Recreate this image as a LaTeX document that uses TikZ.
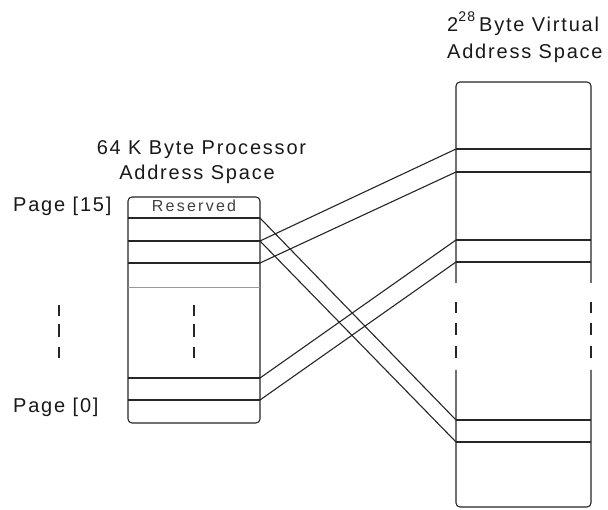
\documentclass[tikz,border=0pt]{standalone}
\usepackage{fontspec}
\setmainfont{Liberation Sans}
\newfontfamily\lblfont[LetterSpace=9]{Liberation Sans}
\newfontfamily\resfont[LetterSpace=14]{Liberation Sans}
\begin{document}
\begin{tikzpicture}[x=1pt,y=-1pt,
  edge/.style={line width=1.1pt,draw=black!85},
  light/.style={line width=0.8pt,draw=black!40},
  lbl/.style={inner sep=0pt,font=\lblfont\fontsize{20}{22}\selectfont,text=black!90},
  reslbl/.style={inner sep=0pt,font=\resfont\fontsize{16}{18}\selectfont,text=black!75}]
\useasboundingbox (0,0) rectangle (608,510);
\fill[white] (0,0) rectangle (608,510);

% labels
\node[lbl,anchor=base] (t1) at (201.5,155) {64 K Byte Processor};
\node[lbl,anchor=base] (t2) at (197,180) {Address Space};
\node[lbl,anchor=base west] (p15) at (13,212) {Page [15]};
\node[lbl,anchor=base west] (p0) at (13,413) {Page [0]};
\node[reslbl,anchor=base] (res) at (194,212) {Reserved};
\node[lbl,anchor=base west] (t3) at (447,32) {2\raisebox{10pt}{\fontsize{14}{14}\selectfont 28}\hspace{4pt}Byte Virtual};
\node[lbl,anchor=base west] (t4) at (447,59) {Address Space};

% left box
\draw[edge,rounded corners=4] (128,197) rectangle (260,423);
\foreach \y/\n in {218/1,241/2,263/3,378/4,400/5}{
  \coordinate (LA\n) at (128,\y);
  \coordinate (L\n) at (260,\y);
  \draw[edge] (LA\n) -- (L\n);
}
\coordinate (LA6) at (128,287);
\coordinate (L6) at (260,287);
\draw[light] (LA6) -- (L6);

% dashes (left, inside)
\foreach \a/\b in {305/316,324/337,347/358}{
  \draw[edge] (59,\a) -- (59,\b);
  \draw[edge] (194,\a) -- (194,\b);
}

% right box
\draw[edge,rounded corners=4] (456,283) -- (456,82) -- (591,82) -- (591,283);
\draw[edge,rounded corners=4] (456,370) -- (456,507) -- (591,507) -- (591,370);
\foreach \a/\b in {302/313,323/335,346/358}{
  \draw[edge] (456,\a) -- (456,\b);
  \draw[edge] (591,\a) -- (591,\b);
}
\foreach \y/\n in {149/1,172/2,240/3,262/4,420/5,442/6}{
  \coordinate (R\n) at (456,\y);
  \coordinate (RB\n) at (591,\y);
  \draw[edge] (R\n) -- (RB\n);
}

% connectors
\draw[edge] (L1) -- (R5);
\draw[edge] (L2) -- (R6);
\draw[edge] (L2) -- (R1);
\draw[edge] (L3) -- (R2);
\draw[edge] (L4) -- (R3);
\draw[edge] (L5) -- (R4);
\end{tikzpicture}
\end{document}
